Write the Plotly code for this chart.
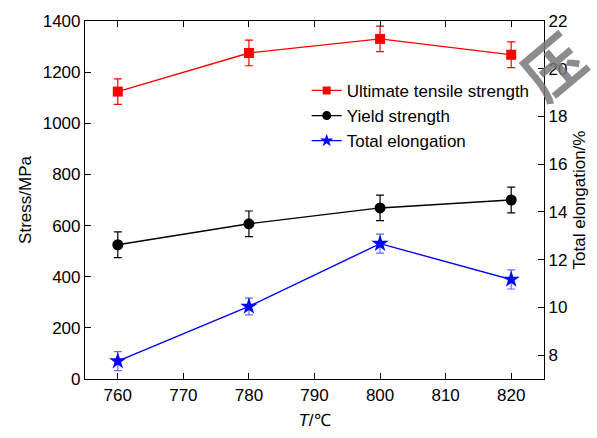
import plotly.graph_objects as go

temps = [760, 780, 800, 820]
uts = [1124, 1275, 1330, 1268]
uts_err = [50, 50, 50, 50]
ys = [525, 607, 669, 700]
ys_err = [50, 50, 50, 50]
elong = [7.75, 10.04, 12.67, 11.17]
elong_err = [0.4, 0.35, 0.4, 0.4]

FONT = "Liberation Sans, Arial, sans-serif"

series = [
    ("Ultimate tensile strength", uts, uts_err, "#FF0000", "square", 10, 8, "y", "#FF0000"),
    ("Yield strength", ys, ys_err, "#000000", "circle", 11, 9, "y", "#000000"),
    ("Total elongation", elong, elong_err, "#0000FF", "star", 13, 10, "y2", "rgba(0,0,255,0.6)"),
]

fig = go.Figure()
for name, vals, errs, col, sym, msize, lsize, yax, ecol in series:
    fig.add_trace(go.Scatter(
        x=temps, y=vals, name=name, mode="lines+markers", yaxis=yax, showlegend=False,
        line=dict(color=col, width=1.4),
        marker=dict(symbol=sym, size=msize, color=col),
        error_y=dict(type="data", array=errs, color=ecol, thickness=1.2, width=4),
    ))
for name, vals, errs, col, sym, msize, lsize, yax, ecol in series:
    fig.add_trace(go.Scatter(
        x=[None], y=[None], name=name, mode="lines+markers", yaxis=yax, showlegend=True,
        line=dict(color=col, width=1.2),
        marker=dict(symbol=sym, size=lsize, color=col),
    ))

axis_common = dict(showline=True, linecolor="#000", linewidth=1.2, ticks="inside",
                   ticklen=6, tickcolor="#000", showgrid=False, zeroline=False,
                   tickfont=dict(family=FONT, size=17, color="#000"))

fig.update_layout(
    width=597, height=438,
    margin=dict(l=85, r=51, t=20, b=58),
    paper_bgcolor="white", plot_bgcolor="white",
    font=dict(family=FONT, color="#000"),
    showlegend=True,
    legend=dict(x=0.483, y=0.855, xanchor="left", yanchor="top",
                bgcolor="rgba(0,0,0,0)", font=dict(family=FONT, size=17),
                tracegroupgap=0, itemsizing="trace"),
    xaxis=dict(range=[755, 825], dtick=10, tick0=760, mirror="ticks",
               title=dict(text="<i>T</i>/℃", font=dict(family=FONT, size=17), standoff=10),
               **axis_common),
    yaxis=dict(range=[0, 1400], dtick=200,
               title=dict(text="Stress/MPa", font=dict(family=FONT, size=17), standoff=6),
               **axis_common),
    yaxis2=dict(range=[7, 22], dtick=2, tick0=8, overlaying="y", side="right",
                title=dict(text="Total elongation/%", font=dict(family=FONT, size=17), standoff=6),
                **axis_common),
)

fig.add_annotation(
    xref="x domain", yref="y domain",
    x=(553 - 85) / 461, y=1 - (64 - 20) / 360,
    xanchor="center", yanchor="middle",
    text="<b>压</b>", showarrow=False,
    font=dict(family="Noto Sans CJK SC", size=60, color="rgba(120,120,120,0.85)"),
    textangle=-40,
)

fig.write_html("out.html")
